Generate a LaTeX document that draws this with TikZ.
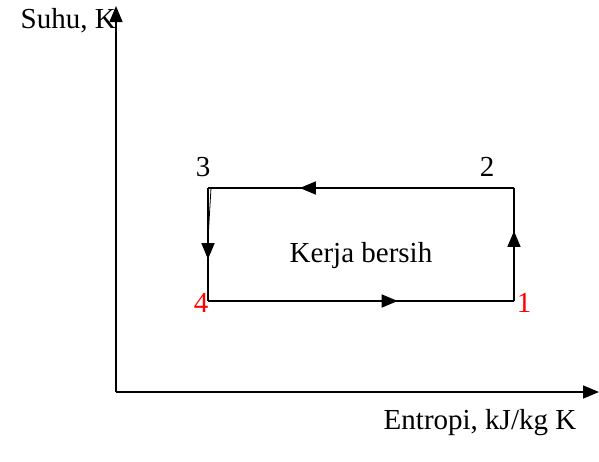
\documentclass[tikz,border=0pt]{standalone}
\usepackage{fontspec}
\setmainfont{Liberation Serif}
\usetikzlibrary{arrows.meta,decorations.markings}
\begin{document}
\begin{tikzpicture}[x=1pt,y=-1pt,
  lbl/.style={font=\fontsize{29}{32}\selectfont, inner sep=0pt},
  redlbl/.style={lbl, text=red},
  axis/.style={line width=1.5pt, -{Triangle[length=16pt,width=13pt]}},
  cyc/.style={line width=1.5pt},
  midtip/.style={postaction={decorate}, decoration={markings, mark=at position #1 with {\arrow{Triangle[length=16pt,width=13pt]}}}}]
\useasboundingbox (0,0) rectangle (599,461);
\coordinate (O) at (116,392);
\coordinate (Ytop) at (116,6);
\coordinate (Xend) at (599,392);
\coordinate (p1) at (514,301);
\coordinate (p2) at (514,188);
\coordinate (p3) at (208,188);
\coordinate (p4) at (208,301);
\coordinate (p3b) at (211,188);
\coordinate (p3c) at (207,256);
\draw[axis] (O) -- (Ytop);
\draw[axis] (O) -- (Xend);
\draw[cyc, midtip=0.62] (p1) -- (p2);
\draw[cyc, midtip=0.70] (p2) -- (p3);
\draw[cyc, midtip=0.63] (p3) -- (p4);
\draw[cyc, midtip=0.62] (p4) -- (p1);
\draw[line width=0.8pt] (p3b) -- (p3c);
\node[lbl] (l3) at (203,167) {3};
\node[lbl] (l2) at (487,167) {2};
\node[redlbl] (l4) at (201,303) {4};
\node[redlbl] (l1) at (524,303) {1};
\node[lbl] (kb) at (361,256) {Kerja bersih};
\node[lbl, anchor=east] (sy) at (116,21) {Suhu, K};
\node[lbl] (sx) at (480,423) {Entropi, kJ/kg K};
\end{tikzpicture}
\end{document}
